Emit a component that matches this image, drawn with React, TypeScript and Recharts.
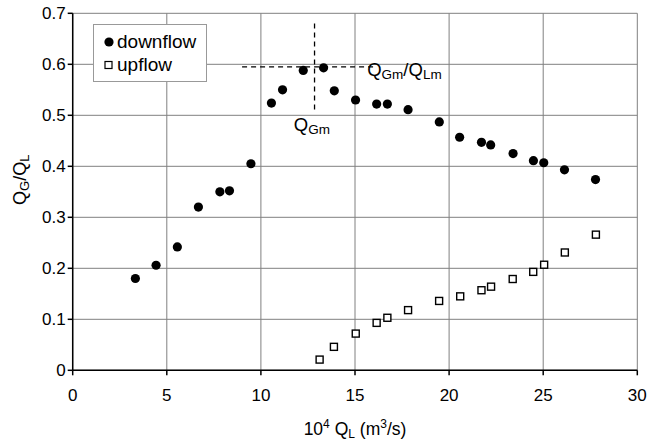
import React from "react";
import {
  ScatterChart,
  Scatter,
  XAxis,
  YAxis,
  CartesianGrid,
  ReferenceLine,
  ReferenceDot,
  Legend,
} from "recharts";

const downflowX = [3.33, 4.43, 5.56, 6.68, 7.82, 8.33, 9.47, 10.56, 11.15, 12.25, 13.33, 13.9, 15.03, 16.15, 16.72, 17.82, 19.48, 20.56, 21.72, 22.21, 23.4, 24.48, 25.03, 26.13, 27.78];
const downflowY = [0.18, 0.206, 0.242, 0.32, 0.35, 0.352, 0.405, 0.524, 0.55, 0.588, 0.593, 0.548, 0.53, 0.522, 0.522, 0.511, 0.487, 0.457, 0.447, 0.442, 0.425, 0.411, 0.407, 0.393, 0.374];
const upflowX = [13.12, 13.88, 15.04, 16.15, 16.72, 17.82, 19.47, 20.59, 21.72, 22.23, 23.38, 24.47, 25.05, 26.15, 27.8];
const upflowY = [0.021, 0.046, 0.072, 0.093, 0.103, 0.118, 0.136, 0.145, 0.157, 0.164, 0.179, 0.193, 0.207, 0.231, 0.266];
const xTicks = [0, 5, 10, 15, 20, 25, 30];
const yTicks = [0, 0.1, 0.2, 0.3, 0.4, 0.5, 0.6, 0.7];
const peakX = 12.85;
const peakY = 0.595;

const downflow = downflowX.map((x, i) => ({ x, y: downflowY[i] }));
const upflow = upflowX.map((x, i) => ({ x, y: upflowY[i] }));

const FONT = "'Liberation Sans', Arial, sans-serif";

const Square = (props: any) => {
  const { cx, cy } = props;
  if (cx == null || cy == null) return null;
  return <rect x={cx - 3.5} y={cy - 3.5} width={7} height={7} fill="#fff" stroke="#000" strokeWidth={1.4} />;
};

const Dot = (props: any) => {
  const { cx, cy } = props;
  if (cx == null || cy == null) return null;
  return <circle cx={cx} cy={cy} r={4.6} fill="#000" />;
};

const LegendBox = () => (
  <div
    style={{
      width: 114,
      height: 58,
      border: "1px solid #999",
      background: "#fff",
      fontFamily: FONT,
      fontSize: 19,
      color: "#000",
      boxSizing: "border-box",
      paddingTop: 5,
      paddingLeft: 10,
      lineHeight: "23px",
      textAlign: "left",
      whiteSpace: "nowrap",
    }}
  >
    <div style={{ display: "flex", alignItems: "center", height: 23 }}>
      <svg width={11} height={10} style={{ marginRight: 2 }}>
        <circle cx={5} cy={5} r={4.6} fill="#000" />
      </svg>
      downflow
    </div>
    <div style={{ display: "flex", alignItems: "center", height: 23 }}>
      <svg width={11} height={10} style={{ marginRight: 2 }}>
        <rect x={1} y={1.5} width={7} height={7} fill="#fff" stroke="#000" strokeWidth={1.2} />
      </svg>
      upflow
    </div>
  </div>
);

const QGmLabel = (props: any) => {
  const { cx, cy } = props;
  return (
    <text x={cx} y={cy} fontFamily={FONT} fontSize={18.5} fill="#000">
      Q<tspan fontSize={13.5} dy={3}>Gm</tspan>
    </text>
  );
};

const RatioLabel = (props: any) => {
  const { cx, cy } = props;
  return (
    <text x={cx} y={cy} fontFamily={FONT} fontSize={18.5} fill="#000">
      Q<tspan fontSize={13.5} dy={3}>Gm</tspan>
      <tspan fontSize={18.5} dy={-3}>/Q</tspan>
      <tspan fontSize={13.5} dy={3}>Lm</tspan>
    </text>
  );
};

const YLabel = (props: any) => {
  const { viewBox } = props;
  const cy = viewBox.y + viewBox.height / 2 - 12;
  const x = 26;
  return (
    <text x={x} y={cy} transform={`rotate(-90 ${x} ${cy})`} textAnchor="middle" fontFamily={FONT} fontSize={18} fill="#000">
      Q<tspan fontSize={13} dy={3}>G</tspan>
      <tspan fontSize={18} dy={-3}>/Q</tspan>
      <tspan fontSize={13} dy={3}>L</tspan>
    </text>
  );
};

const XLabel = (props: any) => {
  const { viewBox } = props;
  const cx = viewBox.x + viewBox.width / 2;
  return (
    <text x={cx} y={435} textAnchor="middle" fontFamily={FONT} fontSize={17.5} fill="#000">
      10<tspan fontSize={12} dy={-7}>4</tspan>
      <tspan fontSize={17.5} dy={7}> Q</tspan>
      <tspan fontSize={12} dy={3}>L</tspan>
      <tspan fontSize={17.5} dy={-3}> (m</tspan>
      <tspan fontSize={12} dy={-7}>3</tspan>
      <tspan fontSize={17.5} dy={7}>/s)</tspan>
    </text>
  );
};

export default function App() {
  return (
    <div style={{ position: "absolute", left: 0, top: 0, width: 651, height: 443, background: "#fff" }}>
      <ScatterChart
        width={651}
        height={443}
        margin={{ top: 13.3, right: 13.7, left: 0, bottom: 0 }}
      >
        <CartesianGrid stroke="#808080" strokeWidth={1} horizontalValues={yTicks} verticalValues={xTicks} />
        <XAxis
          type="number"
          dataKey="x"
          domain={[0, 30]}
          ticks={xTicks}
          allowDataOverflow
          height={72.7}
          stroke="#000"
          strokeWidth={1.5}
          tickSize={5}
          tick={{ fill: "#000", fontSize: 17, fontFamily: FONT, dy: 12 }}
          label={<XLabel />}
        />
        <YAxis
          type="number"
          dataKey="y"
          domain={[0, 0.7]}
          ticks={yTicks}
          allowDataOverflow
          width={72.7}
          stroke="#000"
          strokeWidth={1.5}
          tickSize={5}
          tickFormatter={(v: number) => (v === 0 ? "0" : v.toFixed(1))}
          tick={{ fill: "#000", fontSize: 17, fontFamily: FONT }}
          label={<YLabel />}
        />
        <XAxis xAxisId="top" orientation="top" type="number" domain={[0, 30]} height={0} tick={false} tickLine={false} stroke="#000" strokeWidth={1.5} />
        <YAxis yAxisId="right" orientation="right" type="number" domain={[0, 0.7]} width={0} tick={false} tickLine={false} stroke="#000" strokeWidth={1.5} />
        <ReferenceLine
          segment={[{ x: peakX, y: 0.68 }, { x: peakX, y: 0.505 }]}
          stroke="#000"
          strokeDasharray="5 4"
          strokeWidth={1.3}
        />
        <ReferenceLine
          segment={[{ x: 9.0, y: peakY }, { x: 16.0, y: peakY }]}
          stroke="#000"
          strokeDasharray="5 4"
          strokeWidth={1.3}
        />
        <Scatter name="downflow" data={downflow} shape={<Dot />} isAnimationActive={false} />
        <Scatter name="upflow" data={upflow} shape={<Square />} isAnimationActive={false} />
        <ReferenceDot x={11.75} y={0.47} r={0} shape={<QGmLabel />} />
        <ReferenceDot x={15.65} y={0.577} r={0} shape={<RatioLabel />} />
        <Legend
          layout="horizontal"
          verticalAlign="middle"
          align="center"
          wrapperStyle={{ left: 93, top: 24, width: 114, height: 58 }}
          content={() => <LegendBox />}
        />
      </ScatterChart>
    </div>
  );
}
